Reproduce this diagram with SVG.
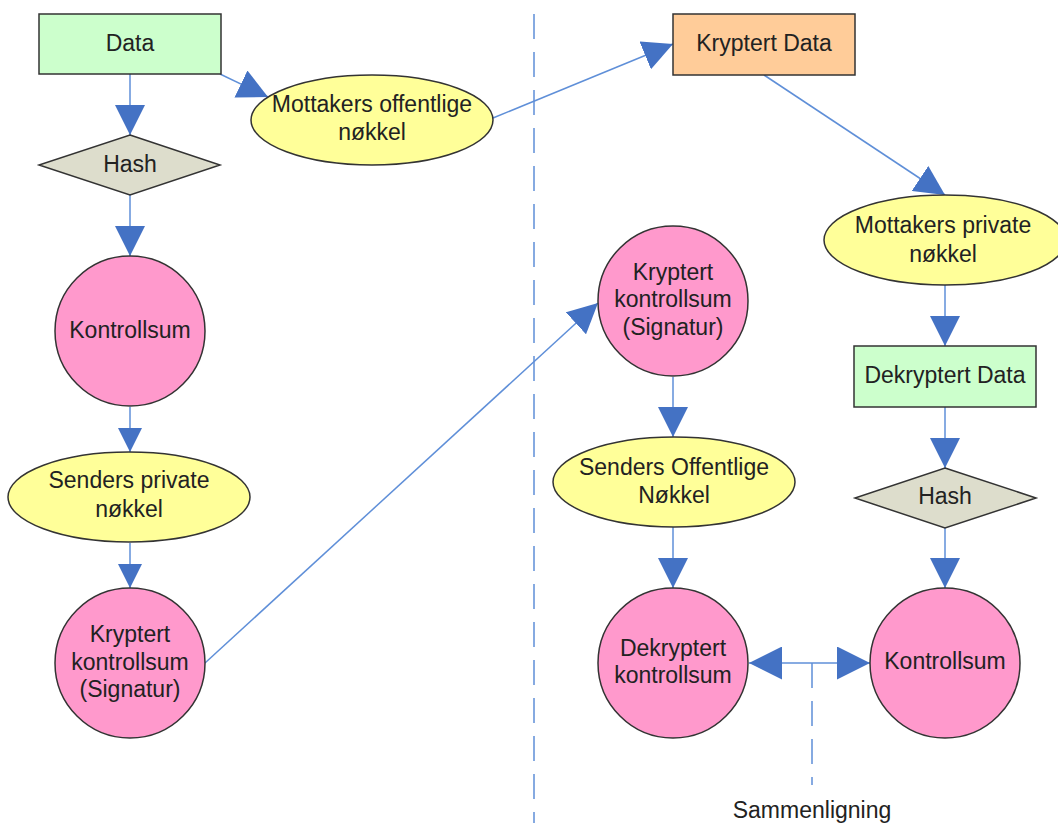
<svg xmlns="http://www.w3.org/2000/svg" width="1058" height="823" viewBox="0 0 1058 823">
<style>
.shape{stroke:#333;stroke-width:1.5}
.rectg{fill:#ccffcc}
.recto{fill:#ffcc99}
.ell{fill:#ffff99}
.dia{fill:#ddddcc}
.circ{fill:#ff99cc}
text{font-family:"Liberation Sans",Arial,sans-serif;font-size:23px;fill:#222;text-anchor:middle}
.con{stroke:#5f8fd8;stroke-width:1.5;fill:none}
.dash{stroke:#5f8fd8;stroke-width:1.5;fill:none;stroke-dasharray:25 13}
</style>
<defs>
<marker id="big" markerUnits="userSpaceOnUse" viewBox="0 0 30 30" refX="30" refY="15" markerWidth="30" markerHeight="30" orient="auto">
<path d="M0,0 L30,15 L0,30 Z" fill="#4472c4"/>
</marker>
<marker id="small" markerUnits="userSpaceOnUse" viewBox="0 0 24 24" refX="24" refY="12" markerWidth="24" markerHeight="24" orient="auto">
<path d="M0,0 L24,12 L0,24 Z" fill="#4472c4"/>
</marker>
<marker id="side" markerUnits="userSpaceOnUse" viewBox="0 0 33 33" refX="33" refY="16.5" markerWidth="33" markerHeight="33" orient="auto">
<path d="M0,0 L33,16.5 L0,33 Z" fill="#4472c4"/>
</marker>
<marker id="sideStart" markerUnits="userSpaceOnUse" viewBox="0 0 33 33" refX="0" refY="16.5" markerWidth="33" markerHeight="33" orient="auto">
<path d="M33,0 L0,16.5 L33,33 Z" fill="#4472c4"/>
</marker>
</defs>

<g id="divider">
<line class="dash" x1="534" y1="14" x2="534" y2="823" stroke-dasharray="25 14"/>
</g>

<g id="connectors">
<line class="con" x1="130" y1="74" x2="130" y2="135" marker-end="url(#big)"/>
<line class="con" x1="220" y1="74" x2="268" y2="97" marker-end="url(#big)"/>
<line class="con" x1="130" y1="195" x2="130" y2="256" marker-end="url(#big)"/>
<line class="con" x1="130" y1="407" x2="130" y2="452" marker-end="url(#small)"/>
<line class="con" x1="130" y1="543" x2="130" y2="588" marker-end="url(#small)"/>
<line class="con" x1="493" y1="118" x2="673" y2="44" marker-end="url(#big)"/>
<line class="con" x1="764" y1="75" x2="945" y2="195" marker-end="url(#big)"/>
<line class="con" x1="205" y1="663" x2="598" y2="303" marker-end="url(#big)"/>
<line class="con" x1="673" y1="377" x2="673" y2="437" marker-end="url(#big)"/>
<line class="con" x1="673" y1="527" x2="673" y2="588" marker-end="url(#big)"/>
<line class="con" x1="945" y1="285" x2="945" y2="346" marker-end="url(#big)"/>
<line class="con" x1="945" y1="407" x2="945" y2="468" marker-end="url(#big)"/>
<line class="con" x1="945" y1="528" x2="945" y2="588" marker-end="url(#big)"/>
<line class="con" x1="749" y1="663" x2="870" y2="663" marker-start="url(#sideStart)" marker-end="url(#side)"/>
<line class="dash" x1="812" y1="663" x2="812" y2="785" stroke-dasharray="25 12"/>
</g>

<g id="n-data">
<rect class="shape rectg" x="39" y="14" width="182" height="60"/>
<text x="130" y="51">Data</text>
</g>
<g id="n-hash1">
<polygon class="shape dia" points="130,135 220,165 130,195 39,165"/>
<text x="130" y="172">Hash</text>
</g>
<g id="n-mottakers-offentlige">
<ellipse class="shape ell" cx="372" cy="120" rx="121" ry="45"/>
<text x="372" y="112">Mottakers offentlige</text>
<text x="372" y="140">nøkkel</text>
</g>
<g id="n-kontrollsum1">
<circle class="shape circ" cx="130" cy="331" r="75"/>
<text x="130" y="338">Kontrollsum</text>
</g>
<g id="n-senders-private">
<ellipse class="shape ell" cx="129" cy="497" rx="121" ry="45"/>
<text x="129" y="488">Senders private</text>
<text x="129" y="517">nøkkel</text>
</g>
<g id="n-kryptert-kontrollsum1">
<circle class="shape circ" cx="130" cy="663" r="75"/>
<text x="130" y="642">Kryptert</text>
<text x="130" y="670">kontrollsum</text>
<text x="130" y="697">(Signatur)</text>
</g>
<g id="n-kryptert-data">
<rect class="shape recto" x="673" y="14" width="182" height="61"/>
<text x="764" y="51">Kryptert Data</text>
</g>
<g id="n-mottakers-private">
<ellipse class="shape ell" cx="945" cy="240" rx="121" ry="45"/>
<text x="943" y="233">Mottakers private</text>
<text x="943" y="262">nøkkel</text>
</g>
<g id="n-kryptert-kontrollsum2">
<circle class="shape circ" cx="673" cy="301" r="75"/>
<text x="673" y="280">Kryptert</text>
<text x="673" y="307">kontrollsum</text>
<text x="673" y="335">(Signatur)</text>
</g>
<g id="n-dekryptert-data">
<rect class="shape rectg" x="854" y="346" width="182" height="61"/>
<text x="945" y="383">Dekryptert Data</text>
</g>
<g id="n-senders-offentlige">
<ellipse class="shape ell" cx="674" cy="482" rx="121" ry="45"/>
<text x="674" y="475">Senders Offentlige</text>
<text x="674" y="503">Nøkkel</text>
</g>
<g id="n-hash2">
<polygon class="shape dia" points="945,468 1036,498 945,528 855,498"/>
<text x="945" y="504">Hash</text>
</g>
<g id="n-dekryptert-kontrollsum">
<circle class="shape circ" cx="673" cy="663" r="75"/>
<text x="673" y="656">Dekryptert</text>
<text x="673" y="683">kontrollsum</text>
</g>
<g id="n-kontrollsum2">
<circle class="shape circ" cx="945" cy="663" r="75"/>
<text x="945" y="669">Kontrollsum</text>
</g>
<g id="label-sammenligning">
<text x="812" y="818">Sammenligning</text>
</g>
</svg>
